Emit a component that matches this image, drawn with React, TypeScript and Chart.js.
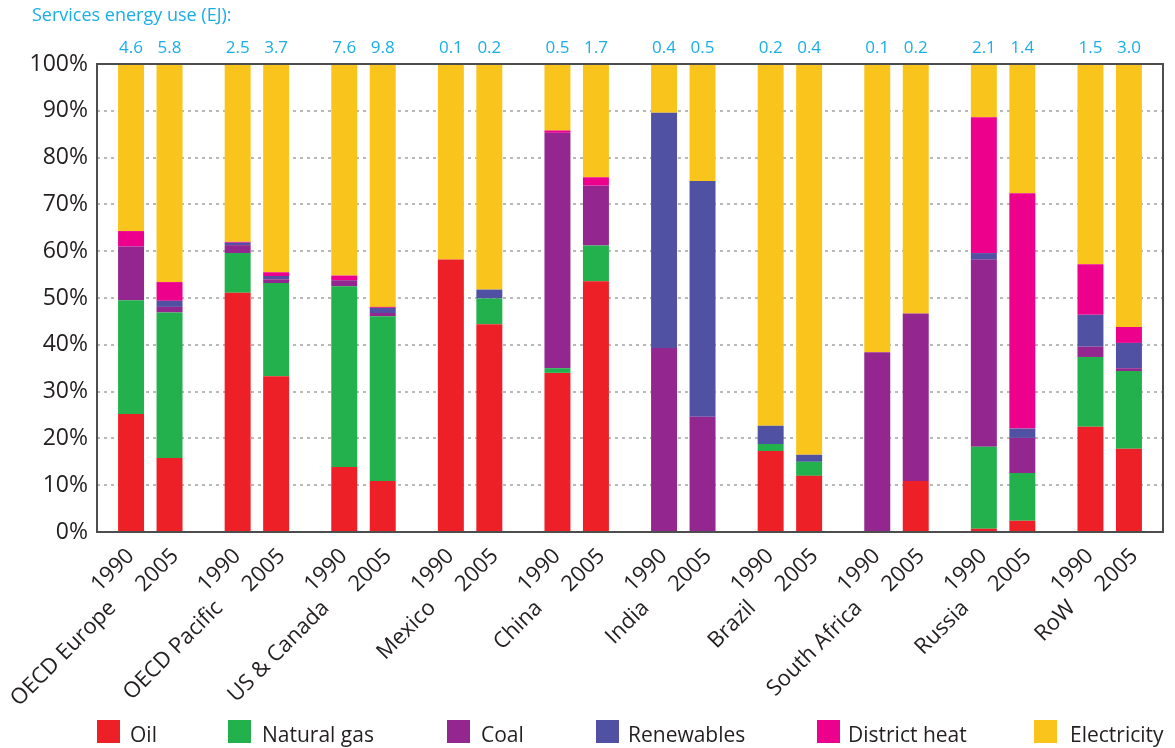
import React, { useEffect, useRef } from "react";
import { Chart, registerables } from "chart.js";

Chart.register(...registerables);

const regions = ["OECD Europe", "OECD Pacific", "US & Canada", "Mexico", "China", "India", "Brazil", "South Africa", "Russia", "RoW"];
const years = ["1990", "2005"];

const energy1990 = [4.6, 2.5, 7.6, 0.1, 0.5, 0.4, 0.2, 0.1, 2.1, 1.5];
const energy2005 = [5.8, 3.7, 9.8, 0.2, 1.7, 0.5, 0.4, 0.2, 1.4, 3.0];

const oil1990 = [25.2, 51.1, 13.9, 58.2, 34.0, 0, 17.3, 0, 0.7, 22.5];
const oil2005 = [15.8, 33.3, 10.9, 44.4, 53.6, 0, 12.0, 10.9, 2.4, 17.8];
const gas1990 = [24.3, 8.5, 38.6, 0, 1.0, 0, 1.5, 0, 17.5, 14.9];
const gas2005 = [31.1, 19.9, 35.2, 5.5, 7.6, 0, 3.0, 0, 10.2, 16.6];
const coal1990 = [11.5, 1.7, 1.3, 0, 50.3, 39.3, 0, 38.4, 40.0, 2.2];
const coal2005 = [1.2, 0.8, 0.7, 0, 12.8, 24.6, 0, 35.8, 7.5, 0.6];
const ren1990 = [0, 0.5, 0, 0, 0, 50.3, 3.9, 0, 1.4, 6.8];
const ren2005 = [1.3, 0.7, 1.1, 1.9, 0, 50.4, 1.5, 0, 2.0, 5.4];
const heat1990 = [3.3, 0.2, 1.0, 0, 0.5, 0, 0, 0, 29.0, 10.8];
const heat2005 = [4.0, 0.8, 0.2, 0, 1.8, 0, 0, 0, 50.3, 3.4];
const elec1990 = [35.7, 38.0, 45.2, 41.8, 14.2, 10.4, 77.3, 61.6, 11.4, 42.8];
const elec2005 = [46.6, 44.5, 51.9, 48.2, 24.2, 25.0, 83.5, 53.3, 27.6, 56.2];

const fuelNames = ["Oil", "Natural gas", "Coal", "Renewables", "District heat", "Electricity"];
const fuelColors = ["#ED2027", "#22B14C", "#93278F", "#5151A3", "#EC008C", "#F9C51D"];
const series1990 = [oil1990, gas1990, coal1990, ren1990, heat1990, elec1990];
const series2005 = [oil2005, gas2005, coal2005, ren2005, heat2005, elec2005];

const yTicks = [0, 10, 20, 30, 40, 50, 60, 70, 80, 90, 100];
const titleText = "Services energy use (EJ):";

const FONT = "'Open Sans', 'Noto Sans', sans-serif";
const CYAN = "#1AAEE8";
const DARK = "#231F20";

const legendSquareX = [97, 228, 447, 596, 817, 1034];
const legendTextX = [130, 262, 481, 628, 848, 1070];

function drawRotated(ctx: CanvasRenderingContext2D, text: string, x: number, y: number) {
  ctx.save();
  ctx.translate(x, y);
  ctx.rotate(-Math.PI / 4);
  ctx.textAlign = "right";
  ctx.textBaseline = "alphabetic";
  ctx.fillText(text, 0, 0);
  ctx.restore();
}

const annotationPlugin = {
  id: "annotations",
  afterDatasetsDraw(chart: any) {
    const ctx: CanvasRenderingContext2D = chart.ctx;
    const a = chart.chartArea;
    ctx.save();
    ctx.strokeStyle = "#4d4d4d";
    ctx.lineWidth = 2;
    ctx.strokeRect(a.left, a.top, a.right - a.left, a.bottom - a.top);
    ctx.restore();
  },
  afterDraw(chart: any) {
    const ctx: CanvasRenderingContext2D = chart.ctx;
    const m90 = chart.getDatasetMeta(0);
    const m05 = chart.getDatasetMeta(1);
    ctx.save();
    // title
    ctx.fillStyle = CYAN;
    ctx.font = `18px ${FONT}`;
    ctx.textAlign = "left";
    ctx.textBaseline = "alphabetic";
    ctx.fillText(titleText, 32, 21);
    // energy values
    ctx.font = `17px ${FONT}`;
    ctx.textAlign = "center";
    regions.forEach((_, i) => {
      ctx.fillText(energy1990[i].toFixed(1), m90.data[i].x, 53);
      ctx.fillText(energy2005[i].toFixed(1), m05.data[i].x, 53);
    });
    // x labels
    ctx.fillStyle = DARK;
    ctx.font = `22px ${FONT}`;
    regions.forEach((r, i) => {
      drawRotated(ctx, years[0], m90.data[i].x + 4, 557);
      drawRotated(ctx, years[1], m05.data[i].x + 10, 557);
      drawRotated(ctx, r, m90.data[i].x - 14, 609);
    });
    // legend
    ctx.font = `21px ${FONT}`;
    ctx.textAlign = "left";
    fuelNames.forEach((n, k) => {
      ctx.fillStyle = fuelColors[k];
      ctx.fillRect(legendSquareX[k], 720, 23, 23);
      ctx.fillStyle = DARK;
      ctx.fillText(n, legendTextX[k], 742);
    });
    ctx.restore();
  },
};

export default function App() {
  const ref = useRef<HTMLCanvasElement | null>(null);
  useEffect(() => {
    if (!ref.current) return;
    const datasets: any[] = [];
    fuelNames.forEach((name, k) => {
      datasets.push({
        label: `${name} 1990`,
        data: series1990[k],
        backgroundColor: fuelColors[k],
        stack: "1990",
        borderWidth: 0,
        barPercentage: 0.675,
        categoryPercentage: 0.722,
      });
      datasets.push({
        label: `${name} 2005`,
        data: series2005[k],
        backgroundColor: fuelColors[k],
        stack: "2005",
        borderWidth: 0,
        barPercentage: 0.675,
        categoryPercentage: 0.722,
      });
    });
    const chart = new Chart(ref.current, {
      type: "bar",
      data: { labels: regions, datasets },
      options: {
        animation: false,
        responsive: true,
        maintainAspectRatio: false,
        layout: { padding: { top: 64, right: 12, left: 0, bottom: 0 } },
        plugins: { legend: { display: false }, tooltip: { enabled: false } },
        scales: {
          x: {
            stacked: true,
            grid: { display: false },
            border: { display: false },
            ticks: { display: false },
            afterFit: (s: any) => {
              s.height = 216;
            },
          },
          y: {
            stacked: true,
            min: 0,
            max: 100,
            afterBuildTicks: (s: any) => {
              s.ticks = yTicks.map((v) => ({ value: v }));
            },
            afterFit: (s: any) => {
              s.width = 97;
            },
            ticks: {
              padding: 9,
              color: DARK,
              font: { family: FONT, size: 23 },
              callback: (v: any) => `${v}%`,
            },
            grid: {
              drawTicks: false,
              lineWidth: 2,
              color: (c: any) => (c.tick && (c.tick.value === 0 || c.tick.value === 100) ? "rgba(0,0,0,0)" : "#b8b8b8"),
            },
            border: { display: false, dash: [3, 4] },
          },
        },
      },
      plugins: [annotationPlugin],
    });
    return () => chart.destroy();
  }, []);
  return (
    <div style={{ position: "absolute", left: 0, top: 0, width: 1175, height: 748 }}>
      <canvas ref={ref} />
    </div>
  );
}
